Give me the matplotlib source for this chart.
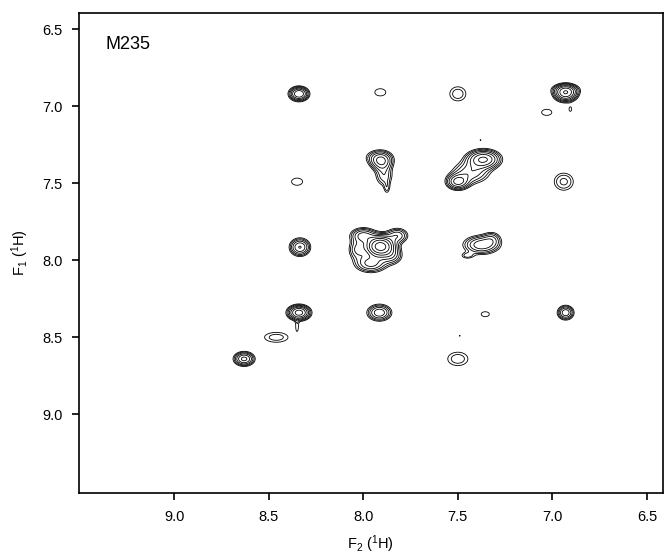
import numpy as np
import matplotlib.pyplot as plt

plt.rcParams['font.family'] = ['Liberation Sans', 'DejaVu Sans']
plt.rcParams['mathtext.fontset'] = 'custom'
plt.rcParams['mathtext.rm'] = 'Liberation Sans'
plt.rcParams['mathtext.it'] = 'Liberation Sans:italic'

# Peak list (ppm): F2 position, F1 position,
# relative height, line widths in F2 and F1
peak_f2 = [8.34, 7.91, 7.50, 6.93, 6.93, 6.905, 7.03,
           7.905, 7.92, 7.89, 7.875, 8.35,
           7.365, 7.50, 7.43, 6.94,
           8.335, 7.91, 8.00, 7.82, 8.03, 7.96, 7.85,
           7.375, 7.45, 7.32,
           8.34, 8.35, 7.915, 7.355, 6.93, 8.46, 8.63, 7.50,
           7.49, 7.38]
peak_f1 = [6.92, 6.91, 6.92, 6.915, 6.89, 7.02, 7.04,
           7.36, 7.33, 7.45, 7.53, 7.49,
           7.345, 7.49, 7.43, 7.49,
           7.915, 7.91, 7.84, 7.84, 7.93, 8.02, 7.97,
           7.90, 7.97, 7.86,
           8.34, 8.43, 8.34, 8.35, 8.34, 8.50, 8.64, 8.64,
           8.49, 7.22]
peak_amp = [7.5, 1.3, 1.8, 10.0, 2.0, 1.25, 1.3,
            5.0, 2.0, 2.5, 1.4, 1.3,
            8.0, 6.0, 3.5, 2.2,
            5.5, 18.0, 4.5, 3.5, 3.0, 4.5, 3.0,
            5.0, 1.6, 2.0,
            9.0, 1.3, 5.0, 1.25, 5.0, 1.7, 6.0, 1.8,
            1.05, 1.05]
peak_wf2 = [0.029, 0.040, 0.039, 0.034, 0.045, 0.010, 0.037,
            0.035, 0.045, 0.030, 0.012, 0.040,
            0.050, 0.035, 0.060, 0.040,
            0.031, 0.042, 0.040, 0.035, 0.030, 0.050, 0.035,
            0.055, 0.025, 0.030,
            0.033, 0.009, 0.037, 0.032, 0.025, 0.060, 0.031, 0.049,
            0.008, 0.008]
peak_wf1 = [0.026, 0.032, 0.042, 0.030, 0.020, 0.020, 0.027,
            0.035, 0.030, 0.045, 0.030, 0.032,
            0.035, 0.030, 0.045, 0.044,
            0.033, 0.038, 0.030, 0.030, 0.040, 0.035, 0.035,
            0.035, 0.015, 0.030,
            0.027, 0.035, 0.031, 0.024, 0.027, 0.031, 0.026, 0.040,
            0.010, 0.010]

sample = 'M235'
x_ticks = [9.0, 8.5, 8.0, 7.5, 7.0, 6.5]
y_ticks = [6.5, 7.0, 7.5, 8.0, 8.5, 9.0]

# build spectrum on a grid
f2 = np.linspace(6.35, 9.6, 900)
f1 = np.linspace(6.3, 9.6, 900)
X, Y = np.meshgrid(f2, f1)
Z = np.zeros_like(X)
for px, py, a, wx, wy in zip(peak_f2, peak_f1, peak_amp, peak_wf2, peak_wf1):
    Z += a * np.exp(-0.5 * (((X - px) / wx) ** 2 + ((Y - py) / wy) ** 2))

levels = 1.0 * 1.4 ** np.arange(12)

fig = plt.figure(figsize=(6.64, 5.57), dpi=100)
ax = fig.add_axes([0.119, 0.115, 0.879, 0.862])
ax.contour(X, Y, Z, levels=levels, colors='black', linewidths=0.6)

ax.set_xlim(9.503, 6.417)
ax.set_ylim(9.51, 6.394)
ax.set_xticks(x_ticks)
ax.set_yticks(y_ticks)
ax.set_xticklabels([f'{t:.1f}' for t in x_ticks])
ax.set_yticklabels([f'{t:.1f}' for t in y_ticks])
ax.tick_params(direction='out', length=5, width=1.2, labelsize=10.5, pad=7)
for s in ax.spines.values():
    s.set_linewidth(1.2)

ax.set_xlabel('F$_2$ ($^1$H)', fontsize=10.5, labelpad=7)
ax.set_ylabel('F$_1$ ($^1$H)', fontsize=10.5, labelpad=8)
ax.text(0.045, 0.933, sample, transform=ax.transAxes, fontsize=13,
        ha='left', va='center')

plt.savefig('out.png', dpi=100)
